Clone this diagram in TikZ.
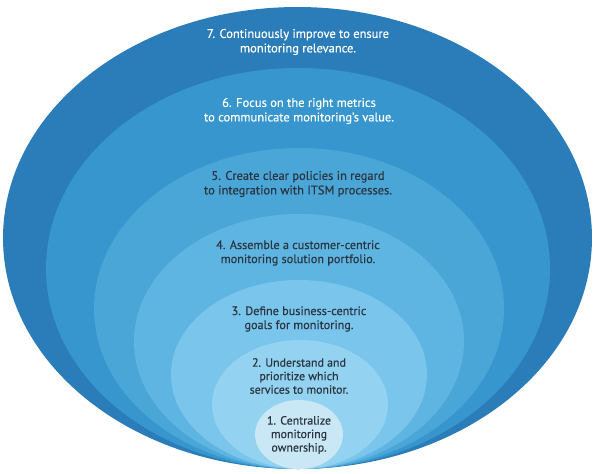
\documentclass[tikz,border=0pt]{standalone}
\usepackage{fontspec}
\setmainfont{PT Sans}[RawFeature={embolden=0.5}]
\definecolor{c7}{HTML}{2A7DB8}
\definecolor{c6}{HTML}{3796CD}
\definecolor{c5}{HTML}{4BA6D8}
\definecolor{c4}{HTML}{5FB5E2}
\definecolor{c3}{HTML}{7AC5EC}
\definecolor{c2}{HTML}{93D3F1}
\definecolor{c1}{HTML}{C9E7F4}
\definecolor{darktxt}{HTML}{2A3540}
\begin{document}
\begin{tikzpicture}[x=1pt,y=-1pt,
  lbl/.style={align=center,inner sep=0pt},
  big/.style={font=\fontsize{12.5pt}{14.5pt}\selectfont},
  mid/.style={font=\fontsize{12.2pt}{14pt}\selectfont},
  small/.style={font=\fontsize{11.9pt}{13.5pt}\selectfont},
  lightlbl/.style={lbl,text=white},
  darklbl/.style={lbl,text=darktxt}]
\useasboundingbox (0,0) rectangle (595,474);
\fill[c7] (297.5,238) ellipse [x radius=294.5pt, y radius=231pt];
\fill[c6] (298,268.5) ellipse [x radius=252pt, y radius=200.5pt];
\fill[c5] (299,308.5) ellipse [x radius=205pt, y radius=160.5pt];
\fill[c4] (299,341.5) ellipse [x radius=165pt, y radius=127.5pt];
\fill[c3] (299,374.5) ellipse [x radius=128pt, y radius=94.5pt];
\fill[c2] (300,404.5) ellipse [x radius=88pt, y radius=64.5pt];
\fill[c1] (299,434.5) ellipse [x radius=44pt, y radius=34.5pt];
\node[lightlbl,big] (t7) at (298,42) {7. Continuously improve to ensure\\monitoring relevance.};
\node[lightlbl,big] (t6) at (299,111) {6. Focus on the right metrics\\to communicate monitoring's value.};
\node[darklbl,big] (t5) at (298,184) {5. Create clear policies in regard\\to integration with ITSM processes.};
\node[darklbl,mid] (t4) at (298,253) {4. Assemble a customer-centric\\monitoring solution portfolio.};
\node[darklbl,mid] (t3) at (299,319) {3. Define business-centric\\goals for monitoring.};
\node[darklbl,small] (t2) at (299,376) {2. Understand and\\prioritize which\\services to monitor.};
\node[darklbl,small] (t1) at (299,435) {1. Centralize\\monitoring\\ownership.};
\end{tikzpicture}
\end{document}
